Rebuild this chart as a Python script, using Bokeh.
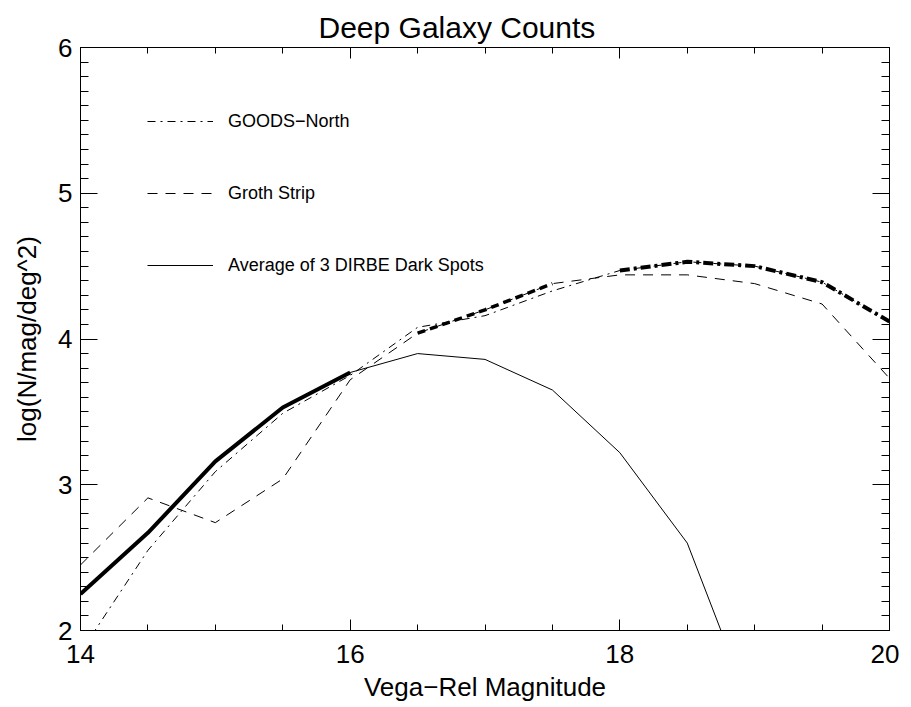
from bokeh.plotting import figure
from bokeh.models import (Range1d, LinearAxis, SingleIntervalTicker, Legend, LegendItem,
                          CustomJSTickFormatter)
from bokeh.embed import file_html
from bokeh.resources import INLINE

# ---- data ----
mags = [14.0, 14.5, 15.0, 15.5, 16.0, 16.5, 17.0, 17.5, 18.0, 18.5, 19.0, 19.5, 20.0]
goods_north = [1.85, 2.55, 3.09, 3.49, 3.75, 4.08, 4.16, 4.33, 4.47, 4.53, 4.50, 4.39, 4.12]
groth_strip = [2.45, 2.91, 2.74, 3.04, 3.72, 4.04, 4.20, 4.38, 4.44, 4.44, 4.38, 4.24, 3.73]
dirbe_mags = [14.0, 14.5, 15.0, 15.5, 16.0, 16.5, 17.0, 17.5, 18.0, 18.5, 19.0]
dirbe_avg = [2.25, 2.67, 3.16, 3.53, 3.77, 3.90, 3.86, 3.65, 3.22, 2.60, 1.40]

# magnitude ranges where each series is drawn heavy
dirbe_heavy = (14.0, 16.0)
groth_heavy = (16.5, 17.5)
goods_heavy = (18.0, 20.0)

x_lo, x_hi = 14, 20
y_lo, y_hi = 2, 6

labels = ["GOODS\u2212North", "Groth Strip", "Average of 3 DIRBE Dark Spots"]
title_text = "Deep Galaxy Counts"
x_label = "Vega\u2212Rel Magnitude"
y_label = "log(N/mag/deg^2)"

FONT = "Liberation Sans"


def part(xs, ys, lo, hi):
    pts = [(x, y) for x, y in zip(xs, ys) if lo <= x <= hi]
    return [a for a, _ in pts], [b for _, b in pts]


p = figure(frame_width=809, frame_height=583,
           x_range=Range1d(x_lo, x_hi), y_range=Range1d(y_lo, y_hi),
           output_backend="svg", toolbar_location=None,
           min_border_left=80, min_border_top=47,
           min_border_right=10, min_border_bottom=60,
           title=title_text)

p.background_fill_color = "white"
p.border_fill_color = "white"
p.outline_line_color = "black"
p.xgrid.visible = False
p.ygrid.visible = False

p.title.text_font = FONT
p.title.text_font_size = "30px"
p.title.text_font_style = "normal"
p.title.text_color = "black"
p.title.align = "left"
p.title.offset = 238
p.title.standoff = 8

blank = CustomJSTickFormatter(code="return ''")


def style_axis(ax, ticker, maj, mnr, labels_on):
    ax.ticker = ticker
    ax.major_tick_in = maj
    ax.major_tick_out = 0
    ax.minor_tick_in = mnr
    ax.minor_tick_out = 0
    ax.axis_line_color = "black"
    ax.major_tick_line_color = "black"
    ax.minor_tick_line_color = "black"
    ax.axis_line_width = 1
    ax.major_tick_line_width = 1
    ax.minor_tick_line_width = 1
    if labels_on:
        ax.major_label_text_font = FONT
        ax.major_label_text_font_size = "26px"
        ax.major_label_text_color = "black"
        ax.axis_label_text_font = FONT
        ax.axis_label_text_font_size = "26px"
        ax.axis_label_text_font_style = "normal"
        ax.axis_label_text_color = "black"
    else:
        ax.formatter = blank
        ax.major_label_text_font_size = "1px"
        ax.major_label_standoff = 0


xt = SingleIntervalTicker(interval=2, num_minor_ticks=4)
yt = SingleIntervalTicker(interval=1, num_minor_ticks=10)

style_axis(p.xaxis[0], xt, 11, 6, True)
p.xaxis[0].axis_label = x_label
p.xaxis[0].major_label_standoff = 14
p.xaxis[0].axis_label_standoff = 6

style_axis(p.yaxis[0], yt, 17, 8, True)
p.yaxis[0].axis_label = y_label
p.yaxis[0].major_label_standoff = 8
p.yaxis[0].axis_label_standoff = 13

top = LinearAxis()
style_axis(top, SingleIntervalTicker(interval=2, num_minor_ticks=4), 11, 6, False)
p.add_layout(top, "above")
right = LinearAxis()
style_axis(right, SingleIntervalTicker(interval=1, num_minor_ticks=10), 17, 8, False)
p.add_layout(right, "right")

# thin full lines
r_goods = p.line(mags, goods_north, line_color="black", line_width=1, line_dash="8 5 2 5")
r_groth = p.line(mags, groth_strip, line_color="black", line_width=1, line_dash="10 8")
r_dirbe = p.line(dirbe_mags, dirbe_avg, line_color="black", line_width=1)

# heavy portions
gx, gy = part(dirbe_mags, dirbe_avg, *dirbe_heavy)
p.line(gx, gy, line_color="black", line_width=4)
gx, gy = part(mags, groth_strip, *groth_heavy)
p.line(gx, gy, line_color="black", line_width=3.5, line_dash="8 5")
gx, gy = part(mags, goods_north, *goods_heavy)
p.line(gx, gy, line_color="black", line_width=4, line_dash="10 4 3 4")

legend = Legend(items=[LegendItem(label=labels[0], renderers=[r_goods]),
                       LegendItem(label=labels[1], renderers=[r_groth]),
                       LegendItem(label=labels[2], renderers=[r_dirbe])],
                location=(67, 350), orientation="vertical",
                glyph_width=66, glyph_height=30, label_height=30,
                spacing=42, padding=0, margin=0, label_standoff=15,
                border_line_color=None, background_fill_alpha=0,
                label_text_font=FONT, label_text_font_size="18px",
                label_text_color="black")
p.add_layout(legend)

open("out.html", "w").write(file_html(p, INLINE))
